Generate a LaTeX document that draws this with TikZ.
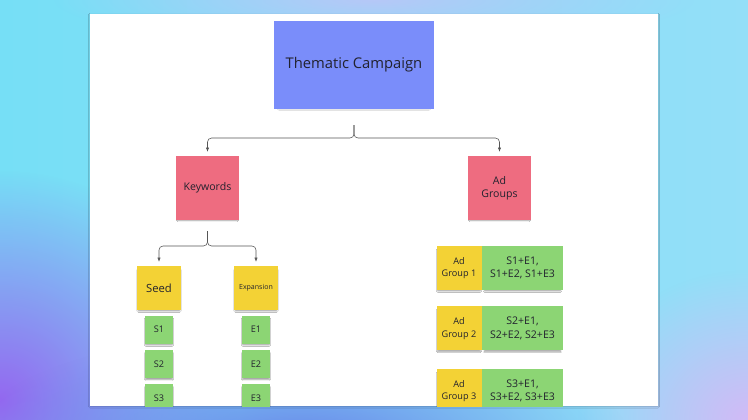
\documentclass[tikz,border=0pt]{standalone}
\usepackage{fontspec}
\setmainfont{Open Sans}
\usetikzlibrary{arrows.meta,shadows.blur,fadings}

\definecolor{ink}{HTML}{22222E}
\definecolor{linegrey}{HTML}{555555}
\definecolor{themeblue}{HTML}{7A8DFA}
\definecolor{notepink}{HTML}{EE6C80}
\definecolor{noteyellow}{HTML}{F3D235}
\definecolor{notegreen}{HTML}{8CD574}
\definecolor{bgcyan}{HTML}{76DFF6}
\definecolor{bgcyanr}{HTML}{94DFF8}
\definecolor{bgpurple}{HTML}{9468F0}
\definecolor{bgblue}{HTML}{6A88EA}
\definecolor{bglilac}{HTML}{D2BAF6}
\definecolor{bgtop}{HTML}{B6C8F8}

\tikzfading[name=softspot, inner color=transparent!0, outer color=transparent!100]

\tikzset{
  sticky/.style={rectangle, inner sep=0pt, align=center, text=ink,
    blur shadow={shadow xshift=0pt, shadow yshift=-3.5pt, shadow scale=0.94,
      shadow opacity=40, shadow blur steps=6}},
  bignote/.style={sticky, minimum width=31.5mm, minimum height=32mm, fill=notepink,
    font=\fontsize{15}{18}\selectfont},
  headnote/.style={sticky, minimum width=22mm, minimum height=22mm, fill=noteyellow},
  itemnote/.style={sticky, minimum width=14mm, minimum height=14mm, fill=notegreen,
    font=\fontsize{13}{16}\selectfont},
  groupnote/.style={sticky, minimum width=22.5mm, minimum height=22mm, fill=noteyellow,
    font=\fontsize{13}{18}\selectfont},
  combonote/.style={sticky, minimum width=40.5mm, minimum height=22mm, fill=notegreen,
    font=\fontsize{15}{19}\selectfont},
  conn/.style={draw=linegrey, line width=0.8pt, rounded corners=2mm,
    -{Latex[length=6pt,width=4.5pt]}, shorten >=2mm}
}

\begin{document}
\begin{tikzpicture}[x=0.5mm,y=-0.5mm]

  \useasboundingbox (0,0) rectangle (748,420);

  % backdrop
  \shade[left color=bgcyan, right color=bgcyanr] (0,0) rectangle (748,420);
  \fill[bgpurple, path fading=softspot] (0,400) ellipse [x radius=240, y radius=230];
  \fill[bgblue, path fading=softspot] (300,440) ellipse [x radius=330, y radius=110];
  \fill[bglilac, path fading=softspot] (748,420) ellipse [x radius=170, y radius=150];
  \fill[bgtop, path fading=softspot] (374,0) ellipse [x radius=320, y radius=45];

  % board
  \fill[white, blur shadow={shadow xshift=0pt, shadow yshift=-1pt, shadow opacity=25}]
    (90,14) rectangle (658,406);

  \begin{scope}
    \clip (90,14) rectangle (658,406);

    \node[sticky, fill=themeblue, minimum width=80mm, minimum height=44mm,
      font=\fontsize{21}{25}\selectfont] (theme) at (354,65) {Thematic Campaign};

    \node[bignote] (kw) at (207.5,188) {Keywords};
    \node[bignote] (ag) at (499.5,188) {Ad\\Groups};

    \node[headnote, font=\fontsize{16}{19}\selectfont] (seed) at (159,288) {Seed};
    \node[headnote, font=\fontsize{10}{12}\selectfont] (exp)  at (256,288) {Expansion};

    \node[itemnote] (s1) at (159,329.5) {S1};
    \node[itemnote] (s2) at (159,364)   {S2};
    \node[itemnote] (s3) at (159,398)   {S3};
    \node[itemnote] (e1) at (256,329.5) {E1};
    \node[itemnote] (e2) at (256,364)   {E2};
    \node[itemnote] (e3) at (256,398)   {E3};

    \node[combonote] (c1) at (522.5,268)   {S1+E1,\\S1+E2, S1+E3};
    \node[combonote] (c2) at (522.5,328.3) {S2+E1,\\S2+E2, S2+E3};
    \node[combonote] (c3) at (522.5,391)   {S3+E1,\\S3+E2, S3+E3};
    \node[groupnote] (g1) at (459,268)   {Ad\\Group 1};
    \node[groupnote] (g2) at (459,328.3) {Ad\\Group 2};
    \node[groupnote] (g3) at (459,391)   {Ad\\Group 3};

    \coordinate (tj) at (354,125);
    \coordinate (kj) at (207.5,231);

    \draw[conn] (tj) -- ++(0,13) -| (kw.north);
    \draw[conn] (tj) -- ++(0,13) -| (ag.north);
    \draw[conn] (kj) -- ++(0,15) -| (seed.north);
    \draw[conn] (kj) -- ++(0,15) -| (exp.north);
  \end{scope}

\end{tikzpicture}
\end{document}
